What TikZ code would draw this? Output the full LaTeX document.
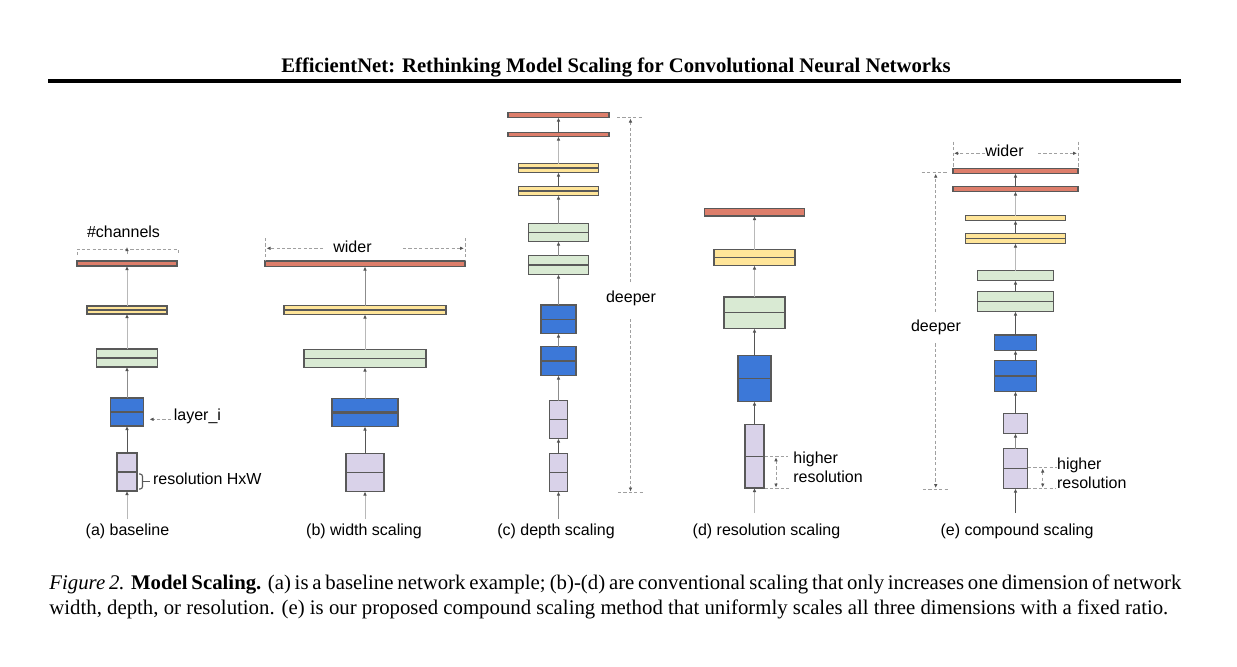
\documentclass[tikz,border=0pt]{standalone}
\usepackage{fontspec}
\setmainfont{Liberation Serif}
\newfontfamily\arialf{Liberation Sans}
\usetikzlibrary{arrows.meta,fit}
\definecolor{cRed}{HTML}{DD7E6B}
\definecolor{cYel}{HTML}{FFE599}
\definecolor{cGrn}{HTML}{D9EAD3}
\definecolor{cBlu}{HTML}{3C78D8}
\definecolor{cLav}{HTML}{D9D2E9}
\definecolor{cBorder}{HTML}{595959}
\definecolor{cTip}{HTML}{555555}
\definecolor{cLight}{HTML}{B8B8B8}
\definecolor{cMid}{HTML}{8C8C8C}
\definecolor{cDark}{HTML}{555555}
\definecolor{cAnn}{HTML}{A0A0A0}
\tikzset{
  blk/.style={draw=cBorder, line width=0.55pt, inner sep=0pt, outer sep=0pt},
  redb/.style={blk, fill=cRed},
  yelb/.style={blk, fill=cYel},
  grnb/.style={blk, fill=cGrn},
  blub/.style={blk, fill=cBlu},
  lavb/.style={blk, fill=cLav},
  tipa/.tip={Latex[length=2pt,width=1.8pt,color=cTip]},
  conn/.style={line width=0.5pt, -tipa},
  lightc/.style={conn, draw=cLight},
  midc/.style={conn, draw=cMid},
  darkc/.style={conn, draw=cDark},
  ann/.style={draw=cAnn, line width=0.5pt, dash pattern=on 1.6pt off 1.1pt},
  annarr/.style={ann, -tipa},
  annboth/.style={ann, tipa-tipa},
  lab/.style={font=\arialf\fontsize{8}{9.6}\selectfont, inner sep=0pt, text=black},
  splitthin/.style={draw=cBorder, line width=0.55pt},
  splitthick/.style={draw=cBorder, line width=1.1pt},
}
\newcommand{\bx}[6]{\node[#6, fit={(#2,#3) (#4,#5)}] (#1) {};}
\newcommand{\splitln}[2][splitthin]{\draw[#1] (#2.west) -- (#2.east);}
\begin{document}
\begin{tikzpicture}[x=0.5pt,y=-0.5pt]
\useasboundingbox[fill=white] (0,0) rectangle (1237,666);

% title and rule
\node[anchor=base, inner sep=0pt, font=\bfseries\fontsize{10.35}{12.4}\selectfont] (title) at (616,72)
  {EfficientNet: Rethinking Model Scaling for Convolutional Neural Networks};
\coordinate (ruleL) at (48,80.7);
\coordinate (ruleR) at (1181,80.7);
\draw[line width=2pt] (ruleL) -- (ruleR);

% ---------------- (a) baseline ----------------
\bx{aR}{77}{261}{177}{266}{redb}
\bx{aY}{87}{306}{167}{314}{yelb}
\bx{aG}{96.5}{349}{157.5}{367}{grnb}
\bx{aB}{110.5}{398}{143.5}{426}{blub}
\bx{aL}{117}{453}{137}{491}{lavb}
\splitln{aY}\splitln{aG}\splitln[splitthick]{aB}\splitln{aL}
\coordinate (aIn) at (127,519);
\draw[lightc] (aIn) -- (aL.south);
\draw[darkc] (aL.north) -- (aB.south);
\draw[midc] (aB.north) -- (aG.south);
\draw[lightc] (aG.north) -- (aY.south);
\draw[lightc] (aY.north) -- (aR.south);
\node[lab, anchor=base] (aCh) at (123.5,237.3) {\#channels};
\draw[ann] (77,255) -- (77,249) -- (178,249) -- (178,255);
\coordinate (aChA) at (127,254);
\coordinate (aChB) at (127,247);
\draw[annarr] (aChA) -- (aChB);
\node[lab, anchor=base west] (aLay) at (173.5,420.8) {layer\_i};
\coordinate (aLayS) at (171,419.3);
\coordinate (aLayT) at (149.5,419.3);
\draw[annarr] (aLayS) -- (aLayT);
\draw[draw=cBorder, line width=0.55pt, rounded corners=1.2pt] (139,474) -- (142.5,474) -- (142.5,489) -- (139,489);
\draw[draw=cBorder, line width=0.55pt] (142.5,481.5) -- (149.5,481.5);
\node[lab, anchor=base west] (aRes) at (152.7,484) {resolution HxW};
\node[lab, anchor=base] (aCap) at (127.5,535) {(a) baseline};

% ---------------- (b) width scaling ----------------
\bx{bR}{265}{261}{465}{266.5}{redb}
\bx{bY}{284}{305.5}{446}{314.5}{yelb}
\bx{bG}{304}{349.5}{426}{367.5}{grnb}
\bx{bB}{332}{398.5}{398}{426.5}{blub}
\bx{bL}{346}{453.5}{384}{491.5}{lavb}
\splitln{bY}\splitln{bG}\splitln[splitthick]{bB}\splitln{bL}
\coordinate (bIn) at (365,519);
\draw[lightc] (bIn) -- (bL.south);
\draw[darkc] (bL.north) -- (bB.south);
\draw[lightc] (bB.north) -- (bG.south);
\draw[lightc] (bG.north) -- (bY.south);
\draw[midc] (bY.north) -- (bR.south);
\draw[ann] (265.5,238) -- (265.5,260);
\draw[ann] (465,238) -- (465,260);
\node[lab, anchor=base] (bW) at (352.5,252.3) {wider};
\draw[annarr] (323,248.3) -- (266.5,248.3);
\draw[annarr] (403,248.3) -- (464,248.3);
\node[lab, anchor=base] (bCap) at (364,535) {(b) width scaling};

% ---------------- (c) depth scaling ----------------
\bx{cR1}{508}{112.5}{609}{117.5}{redb}
\bx{cR2}{508}{132.5}{609}{136.5}{redb}
\bx{cY1}{518.5}{163.5}{598.5}{172.5}{yelb}
\bx{cY2}{518.5}{186.5}{598.5}{195.5}{yelb}
\bx{cG1}{528.5}{223.5}{588.5}{241.5}{grnb}
\bx{cG2}{528.5}{255.5}{588.5}{274.5}{grnb}
\bx{cB1}{541}{305}{576}{333.5}{blub}
\bx{cB2}{541}{346.5}{576}{375.5}{blub}
\bx{cL1}{549.5}{400.5}{567.5}{438.5}{lavb}
\bx{cL2}{549.5}{453.5}{567.5}{491.5}{lavb}
\splitln{cY1}\splitln{cY2}\splitln{cG1}\splitln{cG2}\splitln{cB1}\splitln[splitthick]{cB2}\splitln{cL1}\splitln{cL2}
\coordinate (cIn) at (558.5,519);
\draw[midc] (cIn) -- (cL2.south);
\draw[darkc] (cL2.north) -- (cL1.south);
\draw[midc] (cL1.north) -- (cB2.south);
\draw[midc] (cB2.north) -- (cB1.south);
\draw[midc] (cB1.north) -- (cG2.south);
\draw[midc] (cG2.north) -- (cG1.south);
\draw[midc] (cG1.north) -- (cY2.south);
\draw[darkc] (cY2.north) -- (cY1.south);
\draw[lightc] (cY1.north) -- (cR2.south);
\draw[darkc] (cR2.north) -- (cR1.south);
\draw[ann] (617,117.5) -- (642,117.5);
\draw[annarr] (630.5,282) -- (630.5,118.5);
\node[lab, anchor=base] (cD) at (631,302) {deeper};
\draw[annarr] (630.5,319) -- (630.5,491.5);
\draw[ann] (618,492.5) -- (643,492.5);
\node[lab, anchor=base] (cCap) at (556,535) {(c) depth scaling};

% ---------------- (d) resolution scaling ----------------
\bx{dR}{704.5}{208.5}{804.5}{216}{redb}
\bx{dY}{714}{249.5}{795}{265.5}{yelb}
\bx{dG}{724}{297}{785}{328.5}{grnb}
\bx{dB}{738}{355.5}{771}{401.5}{blub}
\bx{dL}{745}{424.5}{764}{488}{lavb}
\splitln{dY}\splitln{dG}\splitln{dB}\splitln{dL}
\coordinate (dIn) at (754.5,513);
\draw[lightc] (dIn) -- (dL.south);
\draw[darkc] (dL.north) -- (dB.south);
\draw[darkc] (dB.north) -- (dG.south);
\draw[lightc] (dG.north) -- (dY.south);
\draw[lightc] (dY.north) -- (dR.south);
\draw[ann] (764.5,456.3) -- (788,456.3);
\draw[ann] (764.5,488.5) -- (790,488.5);
\draw[annboth] (776,457.3) -- (776,487.5);
\node[lab, anchor=base west] (dH1) at (793,463.3) {higher};
\node[lab, anchor=base west] (dH2) at (793,482.7) {resolution};
\node[lab, anchor=base] (dCap) at (766.5,535) {(d) resolution scaling};

% ---------------- (e) compound scaling ----------------
\bx{eR1}{953}{168.5}{1078}{173.5}{redb}
\bx{eR2}{953}{186.5}{1078}{191.5}{redb}
\bx{eY1}{965.5}{215.5}{1065.5}{220.5}{yelb}
\bx{eY2}{965.5}{233.5}{1065.5}{243.5}{yelb}
\bx{eG1}{977.5}{270.5}{1053.5}{280.5}{grnb}
\bx{eG2}{977.5}{291.5}{1053.5}{311.5}{grnb}
\bx{eB1}{994.5}{335}{1036.5}{350.5}{blub}
\bx{eB2}{994.5}{360.5}{1036.5}{391.5}{blub}
\bx{eL1}{1003.5}{413.5}{1027.5}{433.5}{lavb}
\bx{eL2}{1003.5}{448.5}{1027.5}{488.5}{lavb}
\splitln{eY2}\splitln{eG2}\splitln[splitthick]{eB2}\splitln{eL2}
\coordinate (eIn) at (1015.5,513);
\draw[darkc] (eIn) -- (eL2.south);
\draw[midc] (eL2.north) -- (eL1.south);
\draw[darkc] (eL1.north) -- (eB2.south);
\draw[darkc] (eB2.north) -- (eB1.south);
\draw[darkc] (eB1.north) -- (eG2.south);
\draw[darkc] (eG2.north) -- (eG1.south);
\draw[lightc] (eG1.north) -- (eY2.south);
\draw[darkc] (eY2.north) -- (eY1.south);
\draw[lightc] (eY1.north) -- (eR2.south);
\draw[darkc] (eR2.north) -- (eR1.south);
\draw[ann] (953,141.7) -- (953,166.7);
\draw[ann] (1078,141.7) -- (1078,166.7);
\node[lab, anchor=base] (eW) at (1004.5,156.5) {wider};
\draw[annarr] (985,153.3) -- (954,153.3);
\draw[annarr] (1038,153.3) -- (1077,153.3);
\draw[ann] (921.7,172.7) -- (946.7,172.7);
\draw[annarr] (935.7,311.7) -- (935.7,173.7);
\node[lab, anchor=base] (eD) at (936,331.5) {deeper};
\draw[annarr] (935.7,343.3) -- (935.7,488);
\draw[ann] (923,489) -- (948,489);
\draw[ann] (1028,467.5) -- (1056.7,467.5);
\draw[ann] (1028,488.5) -- (1056,488.5);
\draw[annboth] (1042.7,468.5) -- (1042.7,487.5);
\node[lab, anchor=base west] (eH1) at (1056.7,469) {higher};
\node[lab, anchor=base west] (eH2) at (1056.7,488.3) {resolution};
\node[lab, anchor=base] (eCap) at (1017,535) {(e) compound scaling};

% ---------------- caption ----------------
\node[anchor=base west, inner sep=0pt, font=\fontsize{10.4}{12.5}\selectfont] (cap1) at (49,589)
  {\makebox[566pt][s]{\textit{Figure 2.} \textbf{Model Scaling.} (a) is a baseline network example; (b)-(d) are conventional scaling that only increases one dimension of network}};
\node[anchor=base west, inner sep=0pt, font=\fontsize{10.4}{12.5}\selectfont] (cap2) at (49,614.3)
  {width, depth, or resolution. (e) is our proposed compound scaling method that uniformly scales all three dimensions with a fixed ratio.};
\end{tikzpicture}
\end{document}
